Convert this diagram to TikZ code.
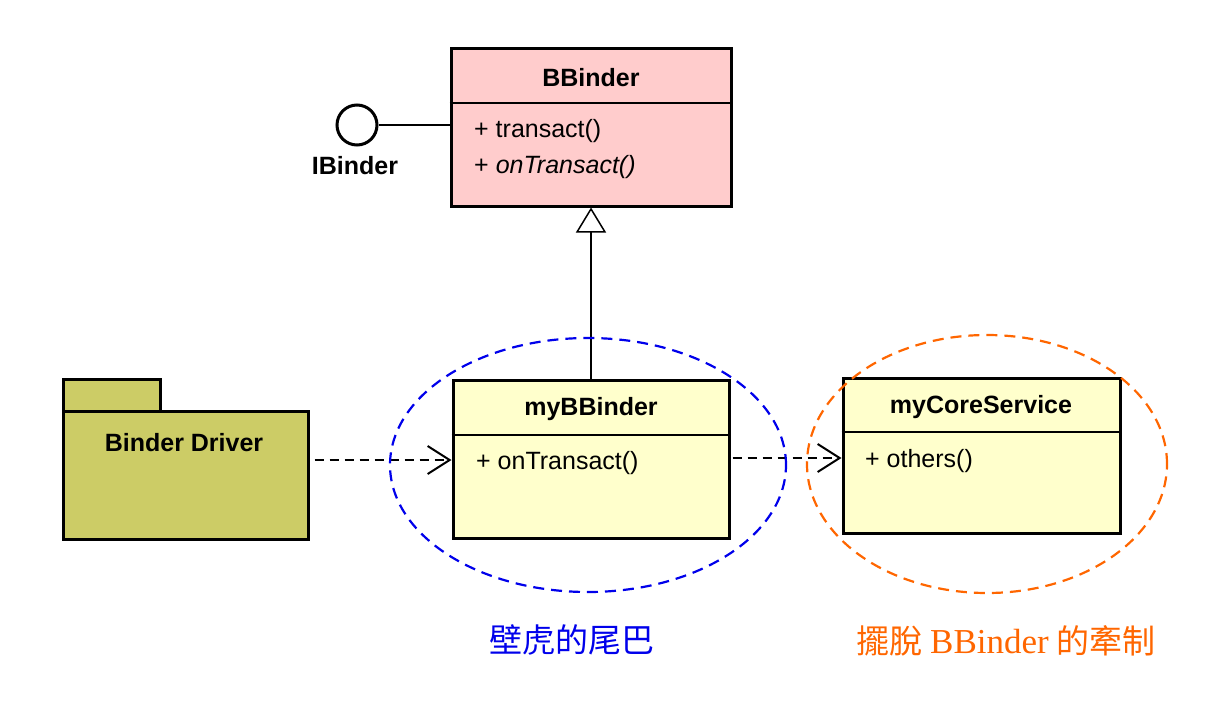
\documentclass[tikz,border=0pt]{standalone}
\usepackage{fontspec}
\setmainfont{Liberation Serif}
\setsansfont{Liberation Sans}
\newfontfamily\cjk{Noto Sans CJK TC}
\usetikzlibrary{arrows.meta}
\definecolor{classpink}{RGB}{255,204,204}
\definecolor{classyellow}{RGB}{255,255,204}
\definecolor{pkgolive}{RGB}{204,204,102}
\definecolor{tailblue}{RGB}{0,0,235}
\definecolor{freeorange}{RGB}{255,102,0}
\tikzset{
  umlbox/.style={draw=black, line width=3pt, inner sep=0pt},
  umltitle/.style={font=\sffamily\bfseries\fontsize{25}{29}\selectfont, inner sep=0pt},
  umlop/.style={font=\sffamily\fontsize{25}{29}\selectfont, anchor=west, inner sep=0pt},
  depline/.style={line width=1.5pt, dash pattern=on 9pt off 6pt, -{Straight Barb[length=22pt,width=28pt,line width=2pt]}},
  hull/.style={line width=2.2pt, dash pattern=on 11pt off 7pt},
}
\begin{document}
\begin{tikzpicture}[x=1pt, y=-1pt]
  \useasboundingbox (0,0) rectangle (1222,704);

  % BBinder class
  \node[umlbox, fill=classpink, minimum width=280pt, minimum height=158pt] (bbinder) at (591,127) {};
  \draw[line width=1.5pt] (bbinder.west |- 0,103) -- (bbinder.east |- 0,103);
  \node[umltitle] (bbtitle) at (591,78) {BBinder};
  \node[umlop] (bbop1) at (474,131) {+ transact()};
  \node[umlop] (bbop2) at (474,167) {+ \textit{onTransact()}};

  % IBinder lollipop
  \node[circle, draw, line width=3pt, fill=white, minimum size=40pt, inner sep=0pt] (ibinder) at (357,125) {};
  \draw[line width=1.5pt] (ibinder) -- (bbinder.west |- ibinder);
  \node[umltitle] (iblabel) at (355,166) {IBinder};

  % myBBinder class
  \node[umlbox, fill=classyellow, minimum width=276pt, minimum height=158pt] (mybb) at (591,459) {};
  \draw[line width=1.5pt] (mybb.west |- 0,435) -- (mybb.east |- 0,435);
  \node[umltitle] (mybbtitle) at (591,409) {myBBinder};
  \node[umlop] (mybbop) at (476,463) {+ onTransact()};

  % myCoreService class
  \node[umlbox, fill=classyellow, minimum width=277pt, minimum height=155pt] (mycore) at (981.5,455.5) {};
  \draw[line width=1.5pt] (mycore.west |- 0,432) -- (mycore.east |- 0,432);
  \node[umltitle] (mycoretitle) at (981,407) {myCoreService};
  \node[umlop] (mycoreop) at (865,461) {+ others()};

  % Binder Driver package
  \node[umlbox, fill=pkgolive, minimum width=97pt, minimum height=32pt] (drvtab) at (111.5,395) {};
  \node[umlbox, fill=pkgolive, minimum width=245pt, minimum height=128pt] (drvbody) at (185.5,475) {};
  \node[umltitle] (drvtitle) at (184,443) {Binder Driver};

  % inheritance
  \draw[line width=1.5pt, -{Triangle[open, fill=white, length=25pt, width=30pt, line width=1.5pt]}] (mybb.north) -- (bbinder.south);

  % dependencies
  \draw[depline] ([xshift=5pt]drvbody.east |- 0,460) -- (mybb.west |- 0,460);
  \draw[depline] ([xshift=2pt]mybb.east |- 0,458) -- (mycore.west |- 0,458);

  % dashed hulls
  \draw[hull, tailblue] (588,465) ellipse [x radius=198pt, y radius=127pt];
  \draw[hull, freeorange] (987,464) ellipse [x radius=180pt, y radius=129pt];

  \node[text=tailblue, font=\cjk\fontsize{33}{38}\selectfont, inner sep=0pt] (taillabel) at (572,640) {壁虎的尾巴};
  \node[text=freeorange, font=\cjk\fontsize{33}{38}\selectfont, inner sep=0pt] (freelabel) at (1006,641) {擺脫 {\rmfamily\fontsize{35}{38}\selectfont BBinder} 的牽制};
\end{tikzpicture}
\end{document}
